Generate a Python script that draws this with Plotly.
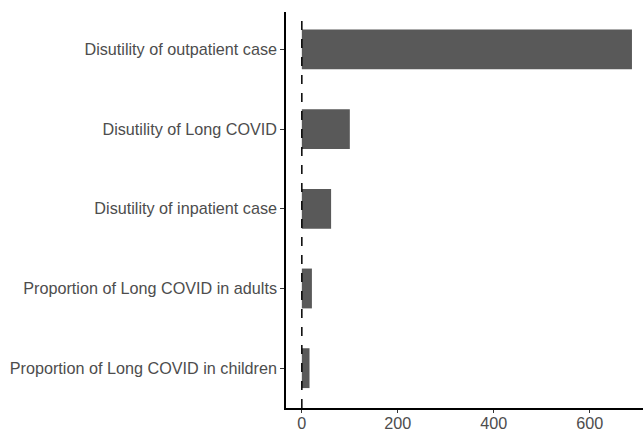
import plotly.graph_objects as go

categories = [
    "Disutility of outpatient case",
    "Disutility of Long COVID",
    "Disutility of inpatient case",
    "Proportion of Long COVID in adults",
    "Proportion of Long COVID in children",
]
values = [688, 100, 61, 21, 16]
x_ticks = [0, 200, 400, 600]

fig = go.Figure()
fig.add_trace(go.Bar(
    y=categories, x=values, orientation="h",
    marker=dict(color="#595959", line=dict(width=0)),
    width=0.5,
))
fig.add_shape(type="line", xref="x", yref="paper", x0=0, x1=0, y0=0, y1=1,
              line=dict(color="black", width=1.5, dash="dash"))

fig.update_layout(
    width=643, height=431,
    margin=dict(l=286, r=0, t=12, b=23, pad=0),
    plot_bgcolor="white", paper_bgcolor="white",
    showlegend=False,
    font=dict(family="Liberation Sans, Arial, sans-serif", size=16.2, color="#4d4d4d"),
)
fig.update_xaxes(
    range=[-33, 711], tickvals=x_ticks, ticktext=[str(v) for v in x_ticks],
    showgrid=False, zeroline=False, automargin=False,
    showline=True, linecolor="black", linewidth=1.5,
    ticks="outside", ticklen=3, tickcolor="#333333", tickwidth=1,
    ticklabelstandoff=-3,
    tickfont=dict(size=16.2, color="#4d4d4d"),
)
fig.update_yaxes(
    type="category", categoryorder="array", categoryarray=categories[::-1],
    range=[-0.5, 4.47], automargin=False,
    showgrid=False, zeroline=False,
    showline=True, linecolor="black", linewidth=1.5,
    ticks="outside", ticklen=4, tickcolor="#333333", tickwidth=1,
    tickfont=dict(size=16.2, color="#4d4d4d"),
)
fig.write_html("out.html")
